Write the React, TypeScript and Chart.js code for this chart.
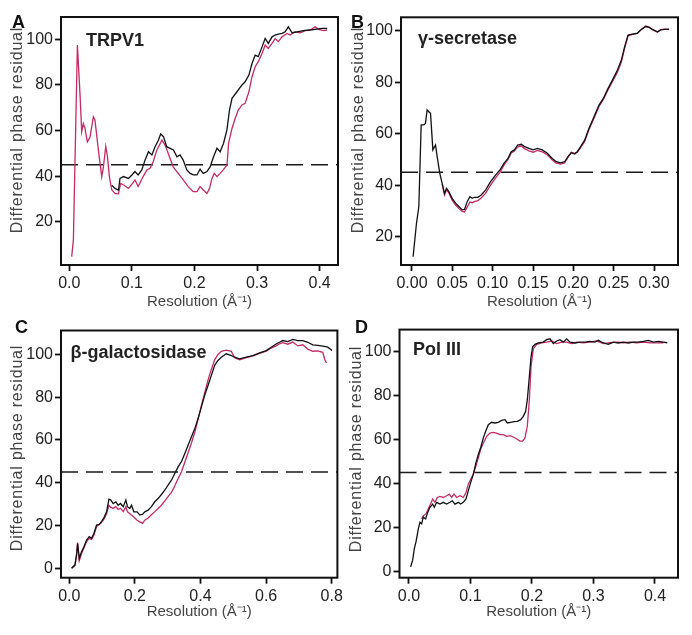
import React, { useEffect, useRef } from "react";
import { Chart, registerables } from "chart.js";
Chart.register(...registerables);

const FONT = "'Liberation Sans', Arial, Helvetica, sans-serif";
const Y_TITLE = "Differential phase residual";
const X_TITLE = "Resolution (Å⁻¹)";
const THRESHOLD = 45;
const BLACK = "#111111";
const MAGENTA = "#c42a64";

// ---------- Panel A: TRPV1 ----------
const A_NAME = "TRPV1";
const A_X_TICKS = [0, 0.1, 0.2, 0.3, 0.4];
const A_Y_TICKS = [20, 40, 60, 80, 100];
const A_MAG_X = [0.0038, 0.0065, 0.0129, 0.017, 0.0198, 0.0224, 0.025, 0.0288, 0.033, 0.0384, 0.041, 0.0464, 0.0518, 0.0545, 0.0582, 0.061, 0.064, 0.0678, 0.073, 0.0785, 0.082, 0.0875, 0.0945, 0.101, 0.105, 0.11, 0.118, 0.124, 0.129, 0.134, 0.14, 0.148, 0.153, 0.158, 0.166, 0.174, 0.182, 0.19, 0.198, 0.204, 0.209, 0.214, 0.22, 0.224, 0.228, 0.2315, 0.236, 0.241, 0.246, 0.252, 0.2545, 0.26, 0.265, 0.27, 0.276, 0.281, 0.287, 0.292, 0.297, 0.302, 0.308, 0.313, 0.318, 0.324, 0.329, 0.334, 0.34, 0.348, 0.353, 0.361, 0.369, 0.377, 0.385, 0.393, 0.398, 0.406, 0.412];
const A_MAG_Y = [4.7, 12, 97.5, 76.3, 59.5, 63, 61, 55, 57, 66, 64.5, 51.5, 39.7, 44, 53, 48.5, 39.8, 34, 32.4, 32.2, 36.8, 36, 34.6, 36.8, 38.3, 35.4, 39.8, 42.7, 43.4, 46.3, 51.5, 55.8, 53.6, 50, 44, 41.2, 38.3, 35.4, 33.2, 33.2, 35.4, 33.9, 32.4, 34.6, 39, 41.2, 39.8, 41.2, 42.7, 44.9, 54.4, 60.9, 65.3, 69, 71.2, 71.9, 77, 83.6, 88, 90.2, 93.8, 97.5, 96, 98.2, 100.4, 99, 101.1, 102.6, 101.9, 103.3, 102.9, 103.8, 104.1, 105.5, 104.4, 103.8, 104.1];
const A_BLACK_X = [0.0678, 0.073, 0.0785, 0.081, 0.0865, 0.0945, 0.1, 0.105, 0.11, 0.1158, 0.121, 0.1265, 0.132, 0.137, 0.1425, 0.146, 0.1505, 0.1556, 0.161, 0.1665, 0.172, 0.177, 0.182, 0.1878, 0.193, 0.1985, 0.204, 0.209, 0.214, 0.22, 0.225, 0.2305, 0.236, 0.241, 0.2465, 0.2518, 0.256, 0.26, 0.268, 0.276, 0.281, 0.287, 0.292, 0.297, 0.302, 0.308, 0.313, 0.318, 0.324, 0.329, 0.334, 0.34, 0.345, 0.35, 0.356, 0.364, 0.374, 0.385, 0.395, 0.404, 0.412];
const A_BLACK_Y = [36, 34.6, 33.9, 39, 39.8, 39, 40.5, 42, 40.5, 42.7, 47, 50.7, 49.3, 52.9, 55.8, 58.5, 57.3, 52.9, 52.2, 51.5, 48.5, 49.3, 47, 42.7, 41.2, 40.5, 40.5, 43, 41.2, 42, 44, 48.5, 52.2, 50.7, 54.4, 60.2, 69, 74.1, 77, 80, 81.4, 84.3, 89.4, 93.1, 92.4, 96.7, 100.4, 98.2, 101.1, 101.9, 102.3, 102.6, 103.3, 105.5, 102.9, 103.3, 103.8, 104.1, 104.5, 104.8, 104.8];

// ---------- Panel B: γ-secretase ----------
const B_NAME = "γ-secretase";
const B_X_TICKS = [0, 0.05, 0.1, 0.15, 0.2, 0.25, 0.3];
const B_Y_TICKS = [20, 40, 60, 80, 100];
const B_BLACK_X = [0.0014, 0.0056, 0.0085, 0.0114, 0.0147, 0.0167, 0.0188, 0.0209, 0.023, 0.0259, 0.0292, 0.0312, 0.0345, 0.0374, 0.0403, 0.0428, 0.0457, 0.0498, 0.054, 0.0581, 0.0622, 0.0651, 0.0684, 0.0718, 0.0747, 0.0775, 0.0817, 0.0858, 0.0912, 0.0974, 0.1036, 0.109, 0.114, 0.119, 0.123, 0.127, 0.131, 0.1355, 0.1396, 0.145, 0.1503, 0.1553, 0.1615, 0.1677, 0.1739, 0.1788, 0.1842, 0.1892, 0.1933, 0.1975, 0.2016, 0.2049, 0.209, 0.214, 0.2194, 0.2256, 0.2318, 0.2372, 0.2421, 0.2484, 0.2546, 0.2595, 0.2636, 0.2678, 0.2732, 0.2794, 0.2844, 0.2897, 0.2938, 0.298, 0.3042, 0.3083, 0.3133, 0.3187];
const B_BLACK_Y = [12.2, 25.2, 31.7, 63.4, 63.4, 64, 69.2, 68.5, 67.9, 53.7, 55.6, 51.1, 44.6, 40.7, 36.8, 38.8, 37.5, 34.9, 33, 31.7, 30.4, 30.6, 33.6, 35.5, 34.9, 35.3, 35.3, 36.2, 38.1, 41.4, 43.9, 45.9, 48.5, 50.4, 53, 53.7, 55.6, 55.9, 55, 54.3, 53.7, 54.3, 53.7, 52.4, 50.4, 49.1, 48.7, 49.1, 51.1, 52.6, 52.1, 53, 55, 57.5, 62.1, 66.6, 71.1, 73.7, 77, 80.8, 84.7, 88.6, 93.8, 98.3, 98.7, 99, 100.5, 101.6, 101.3, 100.5, 99.6, 100.3, 100.5, 100.5];
const B_MAG_X = [0.0374, 0.0403, 0.0428, 0.0457, 0.0498, 0.054, 0.0581, 0.0622, 0.0651, 0.0684, 0.0718, 0.0747, 0.0775, 0.0817, 0.0858, 0.0912, 0.0974, 0.1036, 0.109, 0.114, 0.119, 0.123, 0.127, 0.131, 0.1355, 0.1396, 0.145, 0.1503, 0.1553, 0.1615, 0.1677, 0.1739, 0.1788, 0.1842, 0.1892, 0.1933, 0.1975, 0.2016, 0.2049, 0.209, 0.214, 0.2194, 0.2256, 0.2318, 0.2372, 0.2421, 0.2484, 0.2546, 0.2595, 0.2636, 0.2678, 0.2732, 0.2794, 0.2844, 0.2897, 0.2938, 0.298, 0.3042, 0.3083, 0.3133, 0.3187];
const B_MAG_Y = [40.5, 36.2, 38.2, 37, 34.2, 32.3, 31, 29.8, 29.6, 31.5, 33.5, 33.2, 33.6, 34, 35, 36.8, 40, 42.8, 45, 47.8, 50, 52.5, 53.3, 54.9, 55.2, 54.2, 53.3, 52.8, 53.5, 52.9, 51.8, 49.8, 48.6, 48.2, 48.6, 50.8, 52.8, 52.4, 52.8, 54.6, 57, 61.6, 66, 70.6, 73.3, 76.5, 80.2, 83.9, 87.8, 93.2, 98, 98.6, 99, 100.6, 101.8, 101.4, 100.4, 99.4, 100.4, 100.6, 100.6];

// ---------- Panel C: β-galactosidase ----------
const C_NAME = "β-galactosidase";
const C_X_TICKS = [0, 0.2, 0.4, 0.6, 0.8];
const C_Y_TICKS = [0, 20, 40, 60, 80, 100];
const C_BLACK_X = [0.0072, 0.0173, 0.0224, 0.0254, 0.0305, 0.0376, 0.0447, 0.0528, 0.0609, 0.068, 0.0751, 0.0832, 0.0913, 0.0984, 0.1056, 0.1137, 0.1208, 0.1268, 0.1339, 0.142, 0.1491, 0.1562, 0.1644, 0.1724, 0.1775, 0.1846, 0.1897, 0.1968, 0.2069, 0.215, 0.2232, 0.2302, 0.2404, 0.2505, 0.2607, 0.2708, 0.2809, 0.2911, 0.3012, 0.3114, 0.3215, 0.3317, 0.3418, 0.3519, 0.3621, 0.3722, 0.3824, 0.3925, 0.4026, 0.4128, 0.4229, 0.4331, 0.4432, 0.4533, 0.4635, 0.4787, 0.4939, 0.504, 0.5192, 0.5395, 0.5598, 0.5801, 0.6003, 0.6155, 0.6307, 0.6408, 0.651, 0.6662, 0.6814, 0.6966, 0.7118, 0.727, 0.7422, 0.7575, 0.7727, 0.7879, 0.8011];
const C_BLACK_Y = [0, 1.5, 6.2, 11.6, 4.6, 7.8, 10.1, 13.2, 14.8, 14, 16.3, 20.2, 20.5, 21.8, 23.6, 26.4, 32.3, 31.9, 30.3, 31.1, 29.5, 30.3, 28.8, 31.9, 28.8, 28, 29.5, 26.4, 26.4, 24.9, 25.2, 26.4, 27.2, 28.8, 31.1, 32.6, 34.5, 36.5, 38.9, 41.2, 44.3, 47.4, 49.8, 53.6, 57.5, 61.4, 65.3, 70, 75.4, 80.9, 85.5, 90.2, 94.9, 97.2, 98.7, 100.3, 99.5, 98.7, 97.9, 98.7, 99.5, 100.7, 101.8, 103.4, 104.9, 105.7, 106.5, 106, 107, 106.5, 106.5, 105.7, 104.5, 104.2, 103.9, 103.4, 101.8];
const C_MAG_X = [0.0072, 0.0173, 0.0224, 0.0254, 0.0305, 0.0376, 0.0447, 0.0528, 0.0609, 0.068, 0.0751, 0.0832, 0.0913, 0.0984, 0.1056, 0.1137, 0.1208, 0.1268, 0.1339, 0.142, 0.1491, 0.1562, 0.1644, 0.1724, 0.1775, 0.1846, 0.1968, 0.2069, 0.215, 0.2232, 0.2302, 0.2404, 0.2505, 0.2607, 0.2708, 0.2809, 0.2911, 0.3012, 0.3114, 0.3215, 0.3317, 0.3418, 0.3519, 0.3621, 0.3722, 0.3824, 0.3925, 0.4026, 0.4128, 0.4229, 0.4331, 0.4432, 0.4533, 0.4635, 0.4787, 0.4939, 0.504, 0.5192, 0.5395, 0.5598, 0.5801, 0.6003, 0.6155, 0.6307, 0.6408, 0.651, 0.6662, 0.6814, 0.6966, 0.7118, 0.727, 0.7422, 0.7575, 0.7727, 0.779, 0.784];
const C_MAG_Y = [0, 1.5, 7, 12, 3.5, 7, 9.5, 12.5, 14, 13.5, 15.5, 19.5, 20.5, 21.5, 23, 25.5, 29.5, 28.5, 28, 28.8, 27.5, 28, 26.5, 28.8, 26.4, 25.5, 24, 22.5, 21.7, 21, 22.5, 23.5, 25, 26.5, 28, 29.5, 31.5, 33.5, 35.5, 38.5, 42, 45, 49.5, 54, 58.5, 63.5, 69.5, 76, 82, 88, 93, 97.5, 100, 101.5, 102, 101.5, 98.5, 97.5, 98.5, 99.3, 100.5, 101.5, 103, 104, 105, 105.5, 104.8, 105.8, 104, 104.5, 102.5, 101.5, 101.7, 101, 97.5, 96];

// ---------- Panel D: Pol III ----------
const D_NAME = "Pol III";
const D_X_TICKS = [0, 0.1, 0.2, 0.3, 0.4];
const D_Y_TICKS = [0, 20, 40, 60, 80, 100];
const D_BLACK_X = [0.0027, 0.006, 0.0087, 0.0114, 0.0152, 0.0179, 0.0206, 0.0233, 0.0271, 0.0304, 0.0341, 0.0385, 0.0412, 0.045, 0.0504, 0.0558, 0.0612, 0.0667, 0.0705, 0.0748, 0.0802, 0.084, 0.0883, 0.0927, 0.0965, 0.1003, 0.1046, 0.1089, 0.1127, 0.1165, 0.1209, 0.1247, 0.129, 0.1344, 0.1398, 0.1453, 0.1507, 0.1561, 0.1599, 0.1653, 0.1707, 0.1762, 0.1816, 0.1859, 0.1897, 0.1924, 0.1957, 0.1984, 0.2011, 0.2049, 0.2103, 0.2184, 0.2238, 0.2293, 0.2347, 0.2401, 0.2455, 0.2509, 0.2564, 0.2618, 0.2699, 0.278, 0.2862, 0.2943, 0.3024, 0.3079, 0.316, 0.3241, 0.3322, 0.3404, 0.3485, 0.3566, 0.3648, 0.3729, 0.381, 0.3892, 0.3973, 0.4054, 0.4136, 0.42];
const D_BLACK_Y = [2, 5, 10.3, 13.3, 19.3, 22.3, 21.6, 24.6, 23.8, 26.8, 29.1, 30.6, 29.1, 31.4, 30.6, 31.4, 30.6, 31.4, 32.1, 30.6, 31.4, 30.6, 31.4, 32.9, 36.7, 40.4, 44.2, 49.5, 53.2, 56.3, 60.8, 63.8, 66.8, 67.9, 67.6, 67.9, 68.8, 69.1, 67.6, 67.9, 68.2, 68.3, 69.1, 70.6, 72.9, 78.1, 88.7, 97.7, 102.3, 103.5, 104.1, 104.5, 105.6, 106, 103.8, 105, 105.6, 104.5, 106, 104.5, 104.1, 104.5, 104.5, 104.8, 104.5, 105.3, 104.1, 103.5, 104.5, 104.1, 104.5, 104.1, 104.5, 104.5, 104.8, 105.3, 104.5, 104.8, 104.5, 104.2];
const D_MAG_X = [0.0206, 0.0233, 0.0276, 0.0314, 0.0352, 0.0385, 0.0423, 0.0461, 0.0504, 0.0558, 0.0612, 0.0656, 0.0694, 0.0732, 0.0775, 0.0829, 0.0883, 0.0927, 0.0965, 0.1003, 0.1046, 0.1089, 0.1127, 0.1165, 0.1209, 0.1263, 0.1317, 0.1371, 0.1425, 0.148, 0.1534, 0.1588, 0.1642, 0.1697, 0.1751, 0.1805, 0.1848, 0.1886, 0.1924, 0.1957, 0.1984, 0.2022, 0.2076, 0.2157, 0.2238, 0.232, 0.2401, 0.2482, 0.2564, 0.2645, 0.2726, 0.2835, 0.2943, 0.3051, 0.316, 0.3268, 0.3377, 0.3485, 0.3593, 0.3702, 0.381, 0.3919, 0.4027, 0.4136];
const D_MAG_Y = [23.8, 25.3, 26.1, 28.4, 30.6, 32.9, 31.4, 33.6, 34.1, 33.6, 34.4, 35.1, 33.6, 35.1, 33.6, 34.4, 33.6, 35.9, 39.7, 41.9, 44.2, 48, 51.7, 55.5, 58.5, 61.5, 63, 63.3, 63, 62.3, 62.3, 61.5, 61.8, 61.2, 60.3, 59.3, 59.3, 60.8, 66.1, 78.1, 93.2, 101.5, 103.5, 104.1, 104.5, 105, 103.8, 104.5, 104.5, 103.8, 104.5, 104.1, 104.5, 105, 103.8, 104.2, 104.5, 104.2, 104.5, 104.2, 104.5, 104.2, 104.1, 104.2];

type Panel = {
  letter: string; name: string;
  cl: number; ct: number; cw: number; ch: number;
  fl: number; ft: number; fr: number; fb: number;
  xMin: number; xMax: number; yMin: number; yMax: number;
  xTicks: number[]; yTicks: number[]; xDec: number;
  bx: number[]; by: number[]; mx: number[]; my: number[];
  letterX: number; letterY: number; nameX: number; nameY: number;
  yTitleX: number; yTitleY: number; xTitlePad: number;
};

const PANELS: Panel[] = [
  { letter: "A", name: A_NAME, cl: 0, ct: 0, cw: 346, ch: 318, fl: 61, ft: 17, fr: 338, fb: 265,
    xMin: -0.0133, xMax: 0.4294, yMin: 1.0, yMax: 109.8, xTicks: A_X_TICKS, yTicks: A_Y_TICKS, xDec: 1,
    bx: A_BLACK_X, by: A_BLACK_Y, mx: A_MAG_X, my: A_MAG_Y,
    letterX: 12, letterY: 28, nameX: 86, nameY: 46, yTitleX: 17.5, yTitleY: 130, xTitlePad: 7 },
  { letter: "B", name: B_NAME, cl: 346, ct: 0, cw: 346, ch: 318, fl: 401, ft: 17.3, fr: 678, fb: 265,
    xMin: -0.0136, xMax: 0.3297, yMin: 9.0, yMax: 105.2, xTicks: B_X_TICKS, yTicks: B_Y_TICKS, xDec: 2,
    bx: B_BLACK_X, by: B_BLACK_Y, mx: B_MAG_X, my: B_MAG_Y,
    letterX: 351, letterY: 28, nameX: 418, nameY: 43.5, yTitleX: 358.5, yTitleY: 130, xTitlePad: 7 },
  { letter: "C", name: C_NAME, cl: 0, ct: 318, cw: 346, ch: 317, fl: 61, ft: 330.5, fr: 338, fb: 577.7,
    xMin: -0.0252, xMax: 0.8173, yMin: -4.4, yMax: 111.2, xTicks: C_X_TICKS, yTicks: C_Y_TICKS, xDec: 1,
    bx: C_BLACK_X, by: C_BLACK_Y, mx: C_MAG_X, my: C_MAG_Y,
    letterX: 15, letterY: 333, nameX: 70.5, nameY: 357.5, yTitleX: 17.5, yTitleY: 448, xTitlePad: 14 },
  { letter: "D", name: D_NAME, cl: 346, ct: 318, cw: 346, ch: 317, fl: 399.5, ft: 327.5, fr: 678, fb: 577.7,
    xMin: -0.0154, xMax: 0.4374, yMin: -3.0, yMax: 110.2, xTicks: D_X_TICKS, yTicks: D_Y_TICKS, xDec: 1,
    bx: D_BLACK_X, by: D_BLACK_Y, mx: D_MAG_X, my: D_MAG_Y,
    letterX: 355, letterY: 333, nameX: 413, nameY: 355, yTitleX: 357, yTitleY: 449, xTitlePad: 14 },
];

function toPoints(xs: number[], ys: number[]) {
  return xs.map((x, i) => ({ x, y: ys[i] }));
}

function PanelChart({ p }: { p: Panel }) {
  const ref = useRef<HTMLCanvasElement | null>(null);
  useEffect(() => {
    if (!ref.current) return;
    const deco = {
      id: "deco",
      afterDraw(chart: any) {
        const { ctx, chartArea: a } = chart;
        ctx.save();
        ctx.strokeStyle = "#111";
        ctx.lineWidth = 2;
        ctx.strokeRect(a.left, a.top, a.right - a.left, a.bottom - a.top);
        ctx.font = `bold 18px ${FONT}`;
        ctx.textAlign = "left";
        ctx.textBaseline = "alphabetic";
        ctx.fillStyle = "#111";
        ctx.fillText(p.letter, p.letterX - p.cl, p.letterY - p.ct);
        ctx.fillStyle = "#222";
        ctx.fillText(p.name, p.nameX - p.cl, p.nameY - p.ct);
        ctx.translate(p.yTitleX - p.cl, p.yTitleY - p.ct);
        ctx.rotate(-Math.PI / 2);
        ctx.font = `16px ${FONT}`;
        ctx.fillStyle = "#444";
        ctx.textAlign = "center";
        ctx.textBaseline = "middle";
        (ctx as any).letterSpacing = "0.8px";
        ctx.fillText(Y_TITLE, 0, 0);
        ctx.restore();
      },
    };
    const chart = new Chart(ref.current, {
      type: "line",
      data: {
        datasets: [
          { data: toPoints(p.bx, p.by), borderColor: BLACK, borderWidth: 1.3, pointRadius: 0, tension: 0 },
          { data: toPoints(p.mx, p.my), borderColor: MAGENTA, borderWidth: 1.3, pointRadius: 0, tension: 0 },
          { data: [{ x: p.xMin, y: THRESHOLD }, { x: p.xMax, y: THRESHOLD }], borderColor: "#1a1a1a",
            borderWidth: 1.5, borderDash: [17, 8], pointRadius: 0 },
        ],
      },
      options: {
        animation: false,
        responsive: false,
        events: [],
        layout: { padding: { top: p.ft - p.ct, right: p.cl + p.cw - p.fr, left: 0, bottom: 0 } },
        plugins: { legend: { display: false }, tooltip: { enabled: false } },
        scales: {
          x: {
            type: "linear", min: p.xMin, max: p.xMax,
            afterFit: (s: any) => { s.height = p.ct + p.ch - p.fb; },
            afterBuildTicks: (s: any) => { s.ticks = p.xTicks.map((v) => ({ value: v })); },
            grid: { display: true, drawOnChartArea: false, drawTicks: true, tickLength: 6, tickWidth: 1.8, tickColor: "#111", color: "#111" },
            border: { display: false },
            ticks: { color: "#222", font: { family: FONT, size: 16 }, padding: 3, maxRotation: 0, autoSkip: false,
              callback: (v: any) => Number(v).toFixed(p.xDec) },
            title: { display: true, text: X_TITLE, color: "#444", font: { family: FONT, size: 15 }, padding: { top: 0, bottom: p.xTitlePad } },
          },
          y: {
            type: "linear", min: p.yMin, max: p.yMax,
            afterFit: (s: any) => { s.width = p.fl - p.cl; },
            afterBuildTicks: (s: any) => { s.ticks = p.yTicks.map((v) => ({ value: v })); },
            grid: { display: true, drawOnChartArea: false, drawTicks: true, tickLength: 6, tickWidth: 1.8, tickColor: "#111", color: "#111" },
            border: { display: false },
            ticks: { color: "#222", font: { family: FONT, size: 16 }, padding: 2, autoSkip: false,
              callback: (v: any) => String(Math.round(Number(v))) },
          },
        },
      },
      plugins: [deco],
    } as any);
    return () => chart.destroy();
  }, [p]);
  return (
    <canvas
      ref={ref}
      width={p.cw}
      height={p.ch}
      style={{ position: "absolute", left: p.cl, top: p.ct, width: p.cw, height: p.ch }}
    />
  );
}

export default function App() {
  return (
    <div style={{ position: "absolute", left: 0, top: 0, width: 692, height: 635, background: "#fff", overflow: "hidden" }}>
      {PANELS.map((p) => (
        <PanelChart key={p.letter} p={p} />
      ))}
    </div>
  );
}
